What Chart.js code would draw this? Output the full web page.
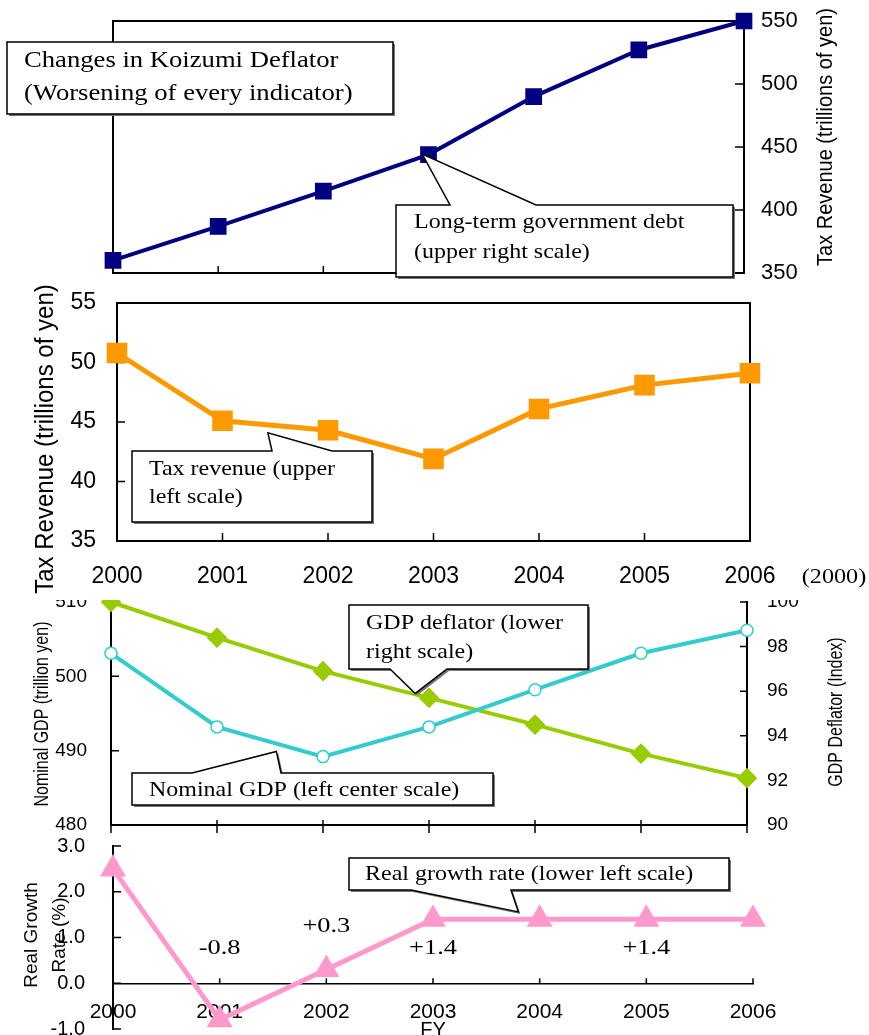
<!DOCTYPE html>
<html>
<head>
<meta charset="utf-8">
<title>Changes in Koizumi Deflator</title>
<script src="https://cdn.jsdelivr.net/npm/chart.js@4.4.1/dist/chart.umd.min.js"></script>
<style>
  html, body { margin: 0; padding: 0; background: #fff; overflow: hidden; }
  #wrap { position: relative; width: 869px; height: 1035px; overflow: hidden; }
  canvas { position: absolute; left: 0; }
  #debtChart { top: 0; z-index: 3; }
  #taxChart { top: 280px; z-index: 2; background: #fff; }
  #gdpChart { top: 580px; z-index: 1; }
  #growthChart { top: 830px; z-index: 3; }
</style>
</head>
<body>
<div id="wrap">
  <canvas id="debtChart" width="869" height="290"></canvas>
  <canvas id="taxChart" width="869" height="320"></canvas>
  <canvas id="gdpChart" width="869" height="258"></canvas>
  <canvas id="growthChart" width="869" height="215"></canvas>
</div>
<script>
// data
const years = ["2000", "2001", "2002", "2003", "2004", "2005", "2006"];
const debt = [360, 387, 415, 444, 490, 527, 550];          // trillion yen, upper right scale
const taxRevenue = [50.8, 45.1, 44.3, 41.9, 46.1, 48.1, 49.1]; // trillion yen
const nominalGdp = [503.1, 493.2, 489.2, 493.2, 498.2, 503.1, 506.2];
const gdpDeflator = [100, 98.4, 96.9, 95.7, 94.5, 93.2, 92.1];
const realGrowth = [2.5, -0.8, 0.3, 1.4, 1.4, 1.4, 1.4];   // %

const NAVY = "#000080", ORANGE = "#FF9900", CYAN = "#33CCCC", GREEN = "#99CC00", PINK = "#FF99CC";
const SANS = "'Liberation Sans', Arial, sans-serif";
const SERIF = "'Liberation Serif', 'Times New Roman', serif";

Chart.defaults.font.family = SANS;
Chart.defaults.color = "#000";
Chart.defaults.animation = false;
Chart.defaults.plugins.legend.display = false;
Chart.defaults.plugins.tooltip.enabled = false;

function drawText(ctx, str, x, y, o) {
    ctx.save();
    ctx.translate(x, y);
    if (o.rot) ctx.rotate(-Math.PI / 2);
    ctx.scale(o.sx || 1, o.sy || 1);
    ctx.font = `${o.size}px ${o.family || SANS}`;
    ctx.fillStyle = "#000";
    ctx.textAlign = o.align || "left";
    ctx.textBaseline = "middle";
    ctx.fillText(str, 0, 0);
    ctx.restore();
}

function signed(v) {
    return (v > 0 ? "+" : "") + v.toFixed(1);
}

// frames, inward tick marks, titles and callout boxes
function decor(cfg) {
    return {
        id: "decor",
        beforeDatasetsDraw(chart) {
            const ctx = chart.ctx, area = chart.chartArea;
            ctx.save();
            ctx.strokeStyle = "#000";
            if (cfg.frame) {
                ctx.lineWidth = 2;
                ctx.strokeRect(area.left, area.top, area.right - area.left, area.bottom - area.top);
            }
            ctx.lineWidth = 1.5;
            ctx.beginPath();
            (cfg.ticks || []).forEach(t => {
                const s = chart.scales[t.id];
                s.ticks.forEach((tk, i) => {
                    const p = s.getPixelForTick(i);
                    if (s.isHorizontal()) {
                        const base = t.on ? chart.scales[t.on].getPixelForValue(0) : area.bottom;
                        ctx.moveTo(p, base - t.inner);
                        ctx.lineTo(p, base + (t.outer || 0));
                    } else {
                        const left = s.position === "left";
                        const base = left ? area.left : area.right;
                        const dir = left ? 1 : -1;
                        ctx.moveTo(base + dir * t.inner, p);
                        ctx.lineTo(base, p);
                    }
                });
            });
            ctx.stroke();
            ctx.restore();
        },
        afterDraw(chart) {
            const ctx = chart.ctx;
            (cfg.titles || []).forEach(t => drawText(ctx, t.text, t.x, t.y, { size: t.size, rot: true, align: "center", sy: t.sy }));
            (cfg.texts || []).forEach(t => {
                const x = t.at ? chart.scales.x.getPixelForValue(t.at[0]) : t.x;
                const y = t.at ? chart.scales.y.getPixelForValue(t.at[1]) : t.y;
                drawText(ctx, t.text, x, y, { size: t.size, family: t.family, align: "center", sx: t.sx });
            });
            (cfg.callouts || []).forEach(c => {
                const [x0, y0, x1, y1] = c.box;
                let tx = 0, ty = 0;
                if (c.anchor) {
                    tx = chart.scales.x.getPixelForValue(c.anchor[0]);
                    ty = chart.scales[c.axis || "y"].getPixelForValue(c.anchor[1]);
                }
                ctx.save();
                ctx.beginPath();
                ctx.moveTo(x0, y0);
                if (c.anchor && ty < y0) {
                    ctx.lineTo(c.base[0], y0);
                    ctx.lineTo(tx, ty);
                    ctx.lineTo(c.base[1], y0);
                }
                ctx.lineTo(x1, y0);
                ctx.lineTo(x1, y1);
                if (c.anchor && ty > y1) {
                    ctx.lineTo(c.base[1], y1);
                    ctx.lineTo(tx, ty);
                    ctx.lineTo(c.base[0], y1);
                }
                ctx.lineTo(x0, y1);
                ctx.closePath();
                ctx.shadowColor = "#777";
                ctx.shadowOffsetX = 2;
                ctx.shadowOffsetY = 2;
                ctx.fillStyle = "#fff";
                ctx.fill();
                ctx.shadowColor = "transparent";
                ctx.lineWidth = 1.5;
                ctx.strokeStyle = "#000";
                ctx.stroke();
                ctx.restore();
                c.lines.forEach((ln, i) => drawText(ctx, ln, c.tx, c.ty[i], { size: c.size || 22, family: SERIF, sx: c.sx || 1.09 }));
            });
        }
    };
}

const hidden = { display: false, drawTicks: false };
// y-axis labels are pushed off the axis with an undrawn tick length, so the
// label padding does not eat into the plot area
const gap = n => ({ display: false, drawTicks: true, tickLength: n });
const axisLine = { display: true, color: "#000", width: 2 };

// Long-term government debt
new Chart(document.getElementById("debtChart"), {
    type: "line",
    data: {
        labels: years,
        datasets: [{
            data: debt, borderColor: NAVY, backgroundColor: NAVY, borderWidth: 4,
            pointStyle: "rect", pointRadius: 9, clip: false
        }]
    },
    options: {
        responsive: false,
        layout: { padding: { left: 113, top: 21, right: 0, bottom: 0 } },
        scales: {
            x: { grid: hidden, border: { display: false }, ticks: { display: false }, afterFit: s => { s.height = 17; } },
            y: {
                position: "right", min: 350, max: 550,
                ticks: { stepSize: 50, padding: 0, font: { size: 22 } },
                grid: gap(17), border: { display: false },
                afterFit: s => { s.width = 125; }
            }
        }
    },
    plugins: [decor({
        frame: true,
        ticks: [{ id: "x", inner: 7 }, { id: "y", inner: 9 }],
        titles: [{ text: "Tax Revenue (trillions of yen)", x: 826, y: 137, size: 20, sy: 1.1 }],
        callouts: [
            { box: [7, 42, 393, 114], lines: ["Changes in Koizumi Deflator", "(Worsening of every indicator)"], tx: 24, ty: [61, 94], size: 24, sx: 1.11 },
            { box: [396, 205, 733, 277], base: [450, 536], anchor: [2.94, 444.4], lines: ["Long-term government debt", "(upper right scale)"], tx: 414, ty: [222, 252] }
        ]
    })]
});

// Tax revenue
new Chart(document.getElementById("taxChart"), {
    type: "line",
    data: {
        labels: years,
        datasets: [{
            data: taxRevenue, borderColor: ORANGE, backgroundColor: ORANGE, borderWidth: 5,
            pointStyle: "rect", pointRadius: 11, clip: false
        }]
    },
    options: {
        responsive: false,
        layout: { padding: { left: 0, top: 23, right: 119, bottom: 0 } },
        scales: {
            x: {
                grid: hidden, border: { display: false },
                ticks: { padding: 22, font: { size: 23 }, maxRotation: 0 },
                afterFit: s => { s.height = 59; }
            },
            y: {
                min: 35, max: 55,
                ticks: { stepSize: 5, padding: 0, font: { size: 23 } },
                grid: gap(21), border: { display: false },
                afterFit: s => { s.width = 117; }
            }
        }
    },
    plugins: [decor({
        frame: true,
        ticks: [{ id: "x", inner: 8 }, { id: "y", inner: 8 }],
        titles: [{ text: "Tax Revenue (trillions of yen)", x: 46, y: 159, size: 24, sy: 1.1 }],
        texts: [{ text: "(2000)", x: 834, y: 297, size: 22, family: SERIF, sx: 1.1 }],
        callouts: [
            { box: [132, 171, 372, 242], base: [272, 332], anchor: [1.43, 44.1], lines: ["Tax revenue (upper", "left scale)"], tx: 149, ty: [189, 217] }
        ]
    })]
});

// Nominal GDP and GDP deflator
new Chart(document.getElementById("gdpChart"), {
    type: "line",
    data: {
        labels: years,
        datasets: [
            {
                data: nominalGdp, yAxisID: "y", borderColor: CYAN, backgroundColor: "#fff", borderWidth: 4,
                pointStyle: "circle", pointRadius: 6, pointBorderWidth: 1.5, clip: false
            },
            {
                data: gdpDeflator, yAxisID: "y2", borderColor: GREEN, backgroundColor: GREEN, borderWidth: 4,
                pointStyle: "rectRot", pointRadius: 7.5, clip: false
            }
        ]
    },
    options: {
        responsive: false,
        layout: { padding: { left: 0, top: 22, right: 0, bottom: 0 } },
        scales: {
            x: { grid: hidden, border: axisLine, ticks: { display: false }, afterFit: s => { s.height = 13; } },
            y: {
                position: "left", min: 480, max: 510,
                ticks: { stepSize: 10, padding: 0, font: { size: 19 } },
                grid: gap(24), border: axisLine,
                afterFit: s => { s.width = 111; }
            },
            y2: {
                position: "right", min: 90, max: 100,
                ticks: { stepSize: 1, padding: 0, font: { size: 19 }, callback: v => (v % 2 === 0 ? v : "") },
                grid: gap(20), border: axisLine,
                afterFit: s => { s.width = 122; }
            }
        }
    },
    plugins: [decor({
        ticks: [{ id: "x", inner: 5, outer: 8 }, { id: "y", inner: 8 }, { id: "y2", inner: 7 }],
        titles: [
            { text: "Nominal GDP (trillion yen)", x: 42, y: 134, size: 16, sy: 1.3 },
            { text: "GDP Deflator (Index)", x: 836, y: 132, size: 16, sy: 1.3 }
        ],
        callouts: [
            { box: [349, 25, 588, 89], base: [390, 447], anchor: [2.87, 95.9], axis: "y2", lines: ["GDP deflator (lower", "right scale)"], tx: 366, ty: [43, 72] },
            { box: [132, 193, 493, 225], base: [192, 281], anchor: [1.56, 489.9], lines: ["Nominal GDP (left center scale)"], tx: 149, ty: [210] }
        ]
    })]
});

// Real growth rate
new Chart(document.getElementById("growthChart"), {
    type: "line",
    data: {
        labels: years,
        datasets: [{
            data: realGrowth, borderColor: PINK, backgroundColor: PINK, borderWidth: 5,
            pointStyle: "triangle", pointRadius: 10, clip: false
        }]
    },
    options: {
        responsive: false,
        layout: { padding: { left: 0, top: 16, right: 116, bottom: 16 } },
        scales: {
            x: {
                position: { y: 0 },
                grid: hidden, border: { display: true, color: "#000", width: 1.5 },
                ticks: { padding: 16, font: { size: 21 }, maxRotation: 0 }
            },
            y: {
                min: -1, max: 3,
                ticks: { stepSize: 1, padding: 0, font: { size: 20 }, callback: v => v.toFixed(1) },
                grid: gap(28), border: axisLine,
                afterFit: s => { s.width = 113; }
            }
        }
    },
    plugins: [decor({
        ticks: [{ id: "x", inner: 5, on: "y" }, { id: "y", inner: 8 }],
        titles: [
            { text: "Real Growth", x: 32, y: 105, size: 19 },
            { text: "Rate (%)", x: 60, y: 105, size: 19 }
        ],
        texts: [
            { text: signed(realGrowth[1]), at: [1, 0.77], size: 22, family: SERIF, sx: 1.2 },
            { text: signed(realGrowth[2]), at: [2, 1.24], size: 22, family: SERIF, sx: 1.2 },
            { text: signed(realGrowth[3]), at: [3, 0.77], size: 22, family: SERIF, sx: 1.2 },
            { text: signed(realGrowth[5]), at: [5, 0.77], size: 22, family: SERIF, sx: 1.2 },
            { text: "FY", at: [3, -1.03], size: 20 }
        ],
        callouts: [
            { box: [349, 28, 729, 60], base: [411, 511], anchor: [3.8, 1.56], lines: ["Real growth rate (lower left scale)"], tx: 365, ty: [44] }
        ]
    })]
});
</script>
</body>
</html>
